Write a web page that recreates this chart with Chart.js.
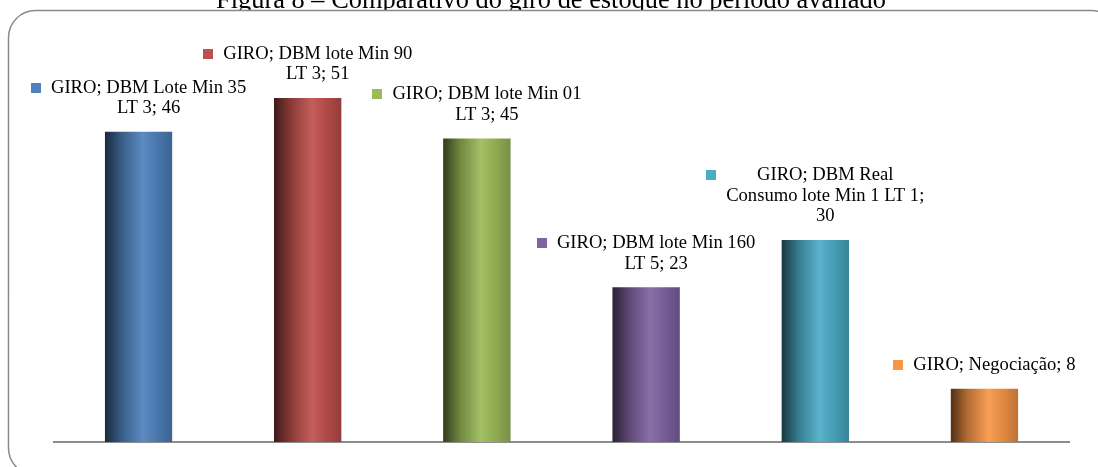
<!DOCTYPE html>
<html lang="pt">
<head>
<meta charset="utf-8">
<title>Comparativo do giro de estoque</title>
<script src="https://cdn.jsdelivr.net/npm/chart.js@4/dist/chart.umd.min.js"></script>
<style>
  html, body { margin: 0; padding: 0; background: #ffffff; }
  #wrap { width: 1098px; height: 467px; position: relative; }
</style>
</head>
<body>
<div id="wrap"><canvas id="giroChart"></canvas></div>
<script>
// Giro de estoque por cenário de planejamento
const chartTitle = 'Figura 8 – Comparativo do giro de estoque no período avaliado';
const seriesName = 'GIRO';
const categories = [
  'DBM Lote Min 35 LT 3',
  'DBM lote Min 90 LT 3',
  'DBM lote Min 01 LT 3',
  'DBM lote Min 160 LT 5',
  'DBM Real Consumo lote Min 1 LT 1',
  'Negociação'
];
const giro = [46, 51, 45, 23, 30, 8];
const palette = ['#4F81BD', '#C0504D', '#9BBB59', '#8064A2', '#4BACC6', '#F79646'];

const SERIF = "'Liberation Serif', 'Times New Roman', serif";
const LABEL_FONT = '18.6px ' + SERIF;
const BAR_PCT = 0.4;

function shade(hex, f) {
  const n = parseInt(hex.slice(1), 16);
  const ch = [(n >> 16) & 255, (n >> 8) & 255, n & 255].map(v => {
    const c = f <= 1 ? v * f : v + (255 - v) * (f - 1);
    return Math.max(0, Math.min(255, Math.round(c)));
  });
  return 'rgb(' + ch.join(',') + ')';
}

// Cylinder-like horizontal shading for each bar
function barFill(ctx) {
  const chart = ctx.chart;
  const i = ctx.dataIndex;
  const base = palette[i % palette.length];
  const xs = chart.scales && chart.scales.x;
  if (!xs || !xs.width || i === undefined) return base;
  const c = xs.getPixelForValue(i);
  const w = xs.width / categories.length * BAR_PCT;
  const g = chart.ctx.createLinearGradient(c - w / 2, 0, c + w / 2, 0);
  g.addColorStop(0, shade(base, 0.32));
  g.addColorStop(0.25, shade(base, 0.72));
  g.addColorStop(0.56, shade(base, 1.08));
  g.addColorStop(0.8, shade(base, 0.9));
  g.addColorStop(1, shade(base, 0.76));
  return g;
}

function wrapWords(ctx, text, maxWidth) {
  const words = text.split(' ');
  const lines = [];
  let cur = '';
  words.forEach(w => {
    const test = cur ? cur + ' ' + w : w;
    if (cur && ctx.measureText(test).width > maxWidth) {
      lines.push(cur);
      cur = w;
    } else {
      cur = test;
    }
  });
  if (cur) lines.push(cur);
  return lines;
}

// Page frame: title and rounded chart border
const framePlugin = {
  id: 'frame',
  beforeDraw(chart) {
    const ctx = chart.ctx;
    ctx.save();
    ctx.fillStyle = '#ffffff';
    ctx.fillRect(0, 0, chart.width, chart.height);
    ctx.fillStyle = '#000000';
    ctx.font = '26.4px ' + SERIF;
    ctx.textAlign = 'center';
    ctx.textBaseline = 'alphabetic';
    ctx.fillText(chartTitle, 551, 7.5);
    const x = 8.5, y = 10.5, w = 1110, h = 464.5, r = 27;
    ctx.beginPath();
    ctx.roundRect(x, y, w, h, r);
    ctx.fillStyle = '#ffffff';
    ctx.fill();
    ctx.lineWidth = 1.5;
    ctx.strokeStyle = '#8a8a8a';
    ctx.stroke();
    ctx.restore();
  }
};

// Data labels: "série; categoria; valor" with a legend key
const labelPlugin = {
  id: 'giroLabels',
  afterDatasetsDraw(chart) {
    const ctx = chart.ctx;
    const meta = chart.getDatasetMeta(0);
    ctx.save();
    ctx.font = LABEL_FONT;
    ctx.fillStyle = '#000000';
    ctx.textBaseline = 'middle';
    ctx.textAlign = 'center';
    const lineH = 20.6;
    const key = 10, gap = 10;
    meta.data.forEach((bar, i) => {
      const text = seriesName + '; ' + categories[i] + '; ' + giro[i];
      const lines = wrapWords(ctx, text, 204);
      const maxW = Math.max(...lines.map(l => ctx.measureText(l).width));
      const blockW = key + gap + maxW;
      const left = bar.x - blockW / 2;
      const textCx = left + key + gap + maxW / 2;
      const lastY = bar.y - 22.5;
      const firstY = lastY - (lines.length - 1) * lineH;
      lines.forEach((l, k) => ctx.fillText(l, textCx, firstY + k * lineH));
      ctx.fillStyle = palette[i % palette.length];
      ctx.fillRect(Math.round(left), Math.round(firstY - key / 2), key, key);
      ctx.fillStyle = '#000000';
    });
    ctx.restore();
  }
};

new Chart(document.getElementById('giroChart'), {
  type: 'bar',
  data: {
    labels: categories,
    datasets: [{
      label: seriesName,
      data: giro,
      backgroundColor: barFill,
      borderColor: 'rgba(255,255,255,0.55)',
      borderWidth: { top: 1, left: 0, right: 0, bottom: 0 },
      borderSkipped: false,
      categoryPercentage: 1,
      barPercentage: BAR_PCT
    }]
  },
  options: {
    responsive: true,
    maintainAspectRatio: false,
    animation: false,
    events: [],
    layout: { padding: { left: 54, right: 29, top: 36, bottom: 25 } },
    scales: {
      x: {
        display: true,
        grid: { display: false, drawTicks: false },
        border: { display: true, color: '#8c8c8c', width: 2 },
        ticks: { display: false }
      },
      y: {
        display: false,
        min: 0,
        max: 60
      }
    },
    plugins: {
      legend: { display: false },
      tooltip: { enabled: false },
      title: { display: false }
    }
  },
  plugins: [framePlugin, labelPlugin]
});
</script>
</body>
</html>
